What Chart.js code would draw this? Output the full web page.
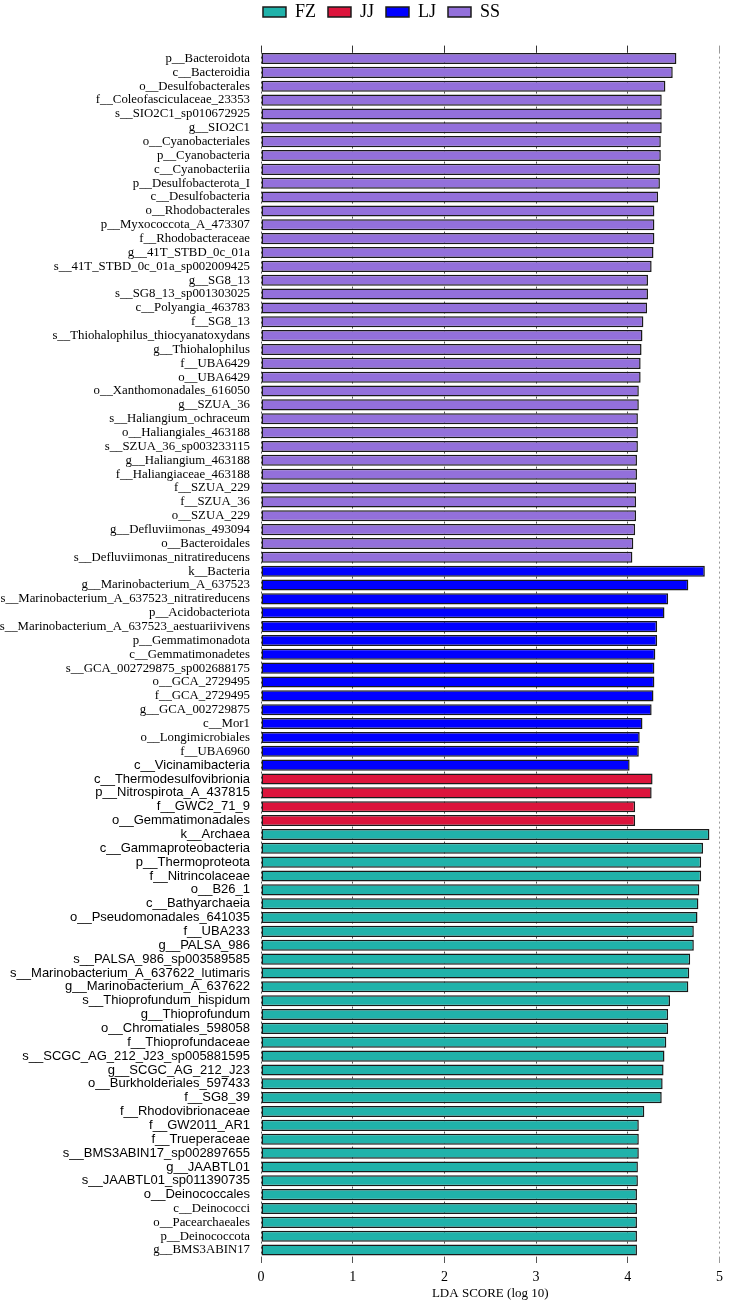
<!DOCTYPE html>
<html>
<head>
<meta charset="utf-8">
<title>LDA score</title>
<script src="https://cdn.jsdelivr.net/npm/chart.js@4.4.1/dist/chart.umd.min.js"></script>
<style>
    body { margin: 0; background: #fff; }
    #wrap { width: 729px; height: 1300px; }
</style>
</head>
<body>
<div id="wrap"><canvas id="ldaChart"></canvas></div>
<script>
// rows are drawn top to bottom: SS, LJ, JJ, FZ
const ssLabels = [
    'p__Bacteroidota', 'c__Bacteroidia', 'o__Desulfobacterales', 'f__Coleofasciculaceae_23353',
    's__SIO2C1_sp010672925', 'g__SIO2C1', 'o__Cyanobacteriales', 'p__Cyanobacteria', 'c__Cyanobacteriia',
    'p__Desulfobacterota_I', 'c__Desulfobacteria', 'o__Rhodobacterales', 'p__Myxococcota_A_473307',
    'f__Rhodobacteraceae', 'g__41T_STBD_0c_01a', 's__41T_STBD_0c_01a_sp002009425', 'g__SG8_13',
    's__SG8_13_sp001303025', 'c__Polyangia_463783', 'f__SG8_13', 's__Thiohalophilus_thiocyanatoxydans',
    'g__Thiohalophilus', 'f__UBA6429', 'o__UBA6429', 'o__Xanthomonadales_616050', 'g__SZUA_36',
    's__Haliangium_ochraceum', 'o__Haliangiales_463188', 's__SZUA_36_sp003233115', 'g__Haliangium_463188',
    'f__Haliangiaceae_463188', 'f__SZUA_229', 'f__SZUA_36', 'o__SZUA_229', 'g__Defluviimonas_493094',
    'o__Bacteroidales', 's__Defluviimonas_nitratireducens'
];
const ssScores = [
    4.53, 4.49, 4.41, 4.37, 4.37, 4.37, 4.36, 4.36, 4.35, 4.35,
    4.33, 4.29, 4.29, 4.29, 4.28, 4.26, 4.22, 4.22, 4.21, 4.17,
    4.16, 4.15, 4.14, 4.14, 4.12, 4.12, 4.11, 4.11, 4.11, 4.10,
    4.10, 4.09, 4.09, 4.09, 4.08, 4.06, 4.05
];

const ljLabels = [
    'k__Bacteria', 'g__Marinobacterium_A_637523', 's__Marinobacterium_A_637523_nitratireducens',
    'p__Acidobacteriota', 's__Marinobacterium_A_637523_aestuariivivens', 'p__Gemmatimonadota',
    'c__Gemmatimonadetes', 's__GCA_002729875_sp002688175', 'o__GCA_2729495', 'f__GCA_2729495',
    'g__GCA_002729875', 'c__Mor1', 'o__Longimicrobiales', 'f__UBA6960', 'c__Vicinamibacteria'
];
const ljScores = [4.84, 4.66, 4.44, 4.40, 4.32, 4.32, 4.30, 4.29, 4.29, 4.28, 4.26, 4.16, 4.13, 4.12, 4.02];

const jjLabels = ['c__Thermodesulfovibrionia', 'p__Nitrospirota_A_437815', 'f__GWC2_71_9', 'o__Gemmatimonadales'];
const jjScores = [4.27, 4.26, 4.08, 4.08];

const fzLabels = [
    'k__Archaea', 'c__Gammaproteobacteria', 'p__Thermoproteota', 'f__Nitrincolaceae', 'o__B26_1',
    'c__Bathyarchaeia', 'o__Pseudomonadales_641035', 'f__UBA233', 'g__PALSA_986', 's__PALSA_986_sp003589585',
    's__Marinobacterium_A_637622_lutimaris', 'g__Marinobacterium_A_637622', 's__Thioprofundum_hispidum',
    'g__Thioprofundum', 'o__Chromatiales_598058', 'f__Thioprofundaceae', 's__SCGC_AG_212_J23_sp005881595',
    'g__SCGC_AG_212_J23', 'o__Burkholderiales_597433', 'f__SG8_39', 'f__Rhodovibrionaceae', 'f__GW2011_AR1',
    'f__Trueperaceae', 's__BMS3ABIN17_sp002897655', 'g__JAABTL01', 's__JAABTL01_sp011390735',
    'o__Deinococcales', 'c__Deinococci', 'o__Pacearchaeales', 'p__Deinococcota', 'g__BMS3ABIN17'
];
const fzScores = [
    4.89, 4.82, 4.80, 4.80, 4.78, 4.77, 4.76, 4.72, 4.72, 4.68,
    4.67, 4.66, 4.46, 4.44, 4.44, 4.42, 4.40, 4.39, 4.38, 4.37,
    4.18, 4.12, 4.12, 4.12, 4.11, 4.11, 4.10, 4.10, 4.10, 4.10, 4.10
];

const groupNames = ['FZ', 'JJ', 'LJ', 'SS'];
const groupColors = ['#20B2AA', '#DC143C', '#0000FF', '#9370DB'];

const allLabels = ssLabels.concat(ljLabels, jjLabels, fzLabels);

// these labels are set in a sans face in the original figure
const sansFirst = 'c__Vicinamibacteria';
const sansLast = 'o__Deinococcales';

const serif = "'Liberation Serif', 'Times New Roman', serif";
const sans = "'Liberation Sans', Arial, sans-serif";

// legend sits a little right of the page centre in the original
const legendShift = {
    id: 'legendShift',
    afterLayout(chart) {
        if (chart.legend) {
            chart.legend.left += 19;
            chart.legend.right += 19;
        }
    }
};

buildLdaChart();

function toPoints(labels, scores) {
    return labels.map((label, i) => ({ y: label, x: scores[i] }));
}

function buildLdaChart() {
    const ctx = document.getElementById('ldaChart');
    const groupData = [
        toPoints(fzLabels, fzScores),
        toPoints(jjLabels, jjScores),
        toPoints(ljLabels, ljScores),
        toPoints(ssLabels, ssScores)
    ];
    const sansStart = allLabels.indexOf(sansFirst);
    const sansEnd = allLabels.indexOf(sansLast);

    // @ts-ignore
    new Chart(ctx, {
        type: 'bar',
        data: {
            labels: allLabels,
            datasets: groupNames.map((name, i) => ({
                label: name,
                data: groupData[i],
                backgroundColor: groupColors[i],
                borderColor: '#1a1a1a',
                borderWidth: 1.5,
                borderSkipped: false,
                grouped: false,
                barPercentage: 0.8,
                categoryPercentage: 1
            }))
        },
        options: {
            indexAxis: 'y',
            responsive: true,
            maintainAspectRatio: false,
            animation: false,
            layout: {
                padding: { top: -9, left: 0, right: 4, bottom: 0 }
            },
            scales: {
                y: {
                    type: 'category',
                    grid: { display: false, drawTicks: false },
                    border: { display: false },
                    ticks: {
                        autoSkip: false,
                        padding: 11,
                        color: '#000',
                        font: (c) => {
                            const isSans = c.index >= sansStart && c.index <= sansEnd;
                            return { family: isSans ? sans : serif, size: isSans ? 13 : 12.8 };
                        }
                    },
                    afterFit: (scale) => { scale.width = 261; }
                },
                x: {
                    type: 'linear',
                    position: 'bottom',
                    min: 0,
                    max: 5,
                    z: 1,
                    grid: {
                        color: (c) => (c.tick && c.tick.value === 5) ? '#9a9a9a' : '#555',
                        lineWidth: 1,
                        tickLength: 6
                    },
                    border: { display: false, dash: [2, 3] },
                    ticks: {
                        stepSize: 1,
                        padding: 6,
                        color: '#000',
                        font: { family: serif, size: 14 }
                    },
                    title: {
                        display: true,
                        text: 'LDA SCORE (log 10)',
                        color: '#000',
                        font: { family: serif, size: 13, lineHeight: 1 },
                        padding: { top: 3, bottom: 0 }
                    },
                    afterFit: (scale) => { scale.height = 43; }
                },
                x2: {
                    type: 'linear',
                    position: 'top',
                    min: 0,
                    max: 5,
                    grid: {
                        color: (c) => (c.tick && c.tick.value === 5) ? '#9a9a9a' : '#333',
                        drawOnChartArea: false,
                        tickLength: 6
                    },
                    border: { display: false, dash: [3, 1] },
                    ticks: { stepSize: 1, display: false },
                    afterFit: (scale) => { scale.height = 20.6; }
                }
            },
            plugins: {
                legend: {
                    position: 'top',
                    onClick: null,
                    labels: {
                        boxWidth: 23,
                        boxHeight: 10,
                        padding: 12,
                        color: '#000',
                        font: { family: serif, size: 18 }
                    }
                },
                tooltip: { enabled: false }
            }
        },
        plugins: [legendShift]
    });
}
</script>
</body>
</html>
